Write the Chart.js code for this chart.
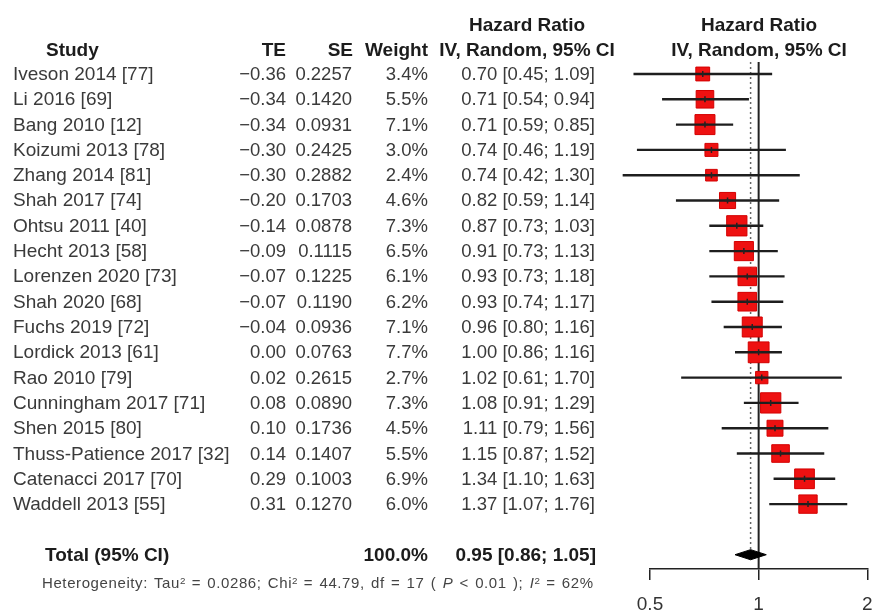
<!DOCTYPE html>
<html><head><meta charset="utf-8">
<script src="https://cdn.jsdelivr.net/npm/chart.js@4.4.0/dist/chart.umd.min.js"></script>
<style>
html,body{margin:0;padding:0;background:#fff;}
#wrap{position:relative;width:873px;height:613px;overflow:hidden;background:#fff;}
#c{position:absolute;left:0;top:0;}
.t{position:absolute;white-space:nowrap;font-family:"Liberation Sans",Arial,Helvetica,sans-serif;font-size:18.5px;color:#3a3a3a;line-height:20px;height:20px;}
.n{font-size:19px;}
.b{font-weight:bold;color:#1c1c1c;font-size:19px;}
.h{font-size:15px;color:#444;letter-spacing:0.6px;word-spacing:1.5px;}
.h sup{font-size:0.65em;vertical-align:0.45em;letter-spacing:0;}
</style></head><body>
<div id="wrap"><canvas id="c" width="883" height="613"></canvas><div id="txt"></div></div>
<script>
// ---- data ----
const STUDIES = ["Iveson 2014 [77]","Li 2016 [69]","Bang 2010 [12]","Koizumi 2013 [78]","Zhang 2014 [81]","Shah 2017 [74]","Ohtsu 2011 [40]","Hecht 2013 [58]","Lorenzen 2020 [73]","Shah 2020 [68]","Fuchs 2019 [72]","Lordick 2013 [61]","Rao 2010 [79]","Cunningham 2017 [71]","Shen 2015 [80]","Thuss-Patience 2017 [32]","Catenacci 2017 [70]","Waddell 2013 [55]"];
const TE = [-0.36,-0.34,-0.34,-0.30,-0.30,-0.20,-0.14,-0.09,-0.07,-0.07,-0.04,0.00,0.02,0.08,0.10,0.14,0.29,0.31];
const SE = [0.2257,0.1420,0.0931,0.2425,0.2882,0.1703,0.0878,0.1115,0.1225,0.1190,0.0936,0.0763,0.2615,0.0890,0.1736,0.1407,0.1003,0.1270];
const WEIGHT = [3.4,5.5,7.1,3.0,2.4,4.6,7.3,6.5,6.1,6.2,7.1,7.7,2.7,7.3,4.5,5.5,6.9,6.0];
const HR = [0.70,0.71,0.71,0.74,0.74,0.82,0.87,0.91,0.93,0.93,0.96,1.00,1.02,1.08,1.11,1.15,1.34,1.37];
const LOWER = [0.45,0.54,0.59,0.46,0.42,0.59,0.73,0.73,0.73,0.74,0.80,0.86,0.61,0.91,0.79,0.87,1.10,1.07];
const UPPER = [1.09,0.94,0.85,1.19,1.30,1.14,1.03,1.13,1.18,1.17,1.16,1.16,1.70,1.29,1.56,1.52,1.63,1.76];
const POOLED = [0.95, 0.86, 1.05];      // estimate, lower, upper
const POOLED_WEIGHT = 100.0;
const X_TICKS = [0.5, 1, 2];
const NULL_VALUE = 1;
const HETEROGENEITY = {tau2:"0.0286", chi2:"44.79", df:"17", p:"0.01", i2:"62%"};

// ---- layout / style ----
const TOTAL_ROW = STUDIES.length + 1;
const Y_MIN = -0.474, Y_MAX = 19.565;
const DIAMOND_HALF = 0.2;
const SQUARE_K = 7.5;   // square side in px = K * sqrt(weight)
const X_AXIS_HEIGHT = 44;

const fmtMinus = s => s.replace('-', '\u2212');
const ciText = (e,l,u) => `${e.toFixed(2)} [${l.toFixed(2)}; ${u.toFixed(2)}]`;

const datasets = [];
// CI lines (on top)
STUDIES.forEach((s,i) => {
  datasets.push({type:'line', data:[{x:LOWER[i],y:i},{x:UPPER[i],y:i}], borderColor:'#1e1e1e', borderWidth:2.4, pointRadius:0, clip:false, order:1});
});
// centre markers
datasets.push({type:'scatter', data:HR.map((v,i)=>({x:v,y:i})), pointStyle:'cross', pointRadius:3, borderColor:'#222', borderWidth:1.5, backgroundColor:'#222', order:0});
// squares
datasets.push({type:'scatter', data:HR.map((v,i)=>({x:v,y:i})), pointStyle:'rect',
  pointRadius:WEIGHT.map(w=>SQUARE_K*Math.sqrt(w)/Math.SQRT2), backgroundColor:'#ee1111', borderColor:'#d40000', borderWidth:1, order:2});
// pooled diamond
datasets.push({type:'line', data:[
  {x:POOLED[1],y:TOTAL_ROW},{x:POOLED[0],y:TOTAL_ROW-DIAMOND_HALF},{x:POOLED[2],y:TOTAL_ROW},{x:POOLED[0],y:TOTAL_ROW+DIAMOND_HALF},{x:POOLED[1],y:TOTAL_ROW}],
  borderColor:'#000', borderWidth:1, backgroundColor:'#000', fill:'shape', pointRadius:0, tension:0, clip:false, order:1});
// reference line at null value
datasets.push({type:'line', data:[{x:NULL_VALUE,y:Y_MIN},{x:NULL_VALUE,y:Y_MAX}], borderColor:'#222', borderWidth:2, pointRadius:0, order:3});
// dotted line at pooled estimate
datasets.push({type:'line', data:[{x:POOLED[0],y:Y_MIN},{x:POOLED[0],y:TOTAL_ROW}], borderColor:'#666', borderWidth:1.5, borderDash:[2,3], pointRadius:0, order:3});

const chart = new Chart(document.getElementById('c'), {
  type:'scatter',
  data:{datasets},
  options:{
    responsive:false, animation:false, devicePixelRatio:1,
    layout:{padding:{left:650, right:6, top:62, bottom:0}},
    plugins:{legend:{display:false}, tooltip:{enabled:false}},
    scales:{
      x:{type:'logarithmic', min:0.5, max:2,
        afterBuildTicks:(sc)=>{ sc.ticks = X_TICKS.map(v=>({value:v})); },
        afterFit:(sc)=>{ sc.height = X_AXIS_HEIGHT; sc.paddingLeft = 0; sc.paddingRight = 0; },
        ticks:{callback:(v)=>String(v), autoSkip:false, maxRotation:0, padding:15,
          color:'#333', font:{family:'"Liberation Sans", Arial, sans-serif', size:19, lineHeight:1}},
        grid:{display:true, drawOnChartArea:false, drawTicks:true, tickLength:11, color:'#222', lineWidth:1.5, tickColor:'#222', tickWidth:1.5},
        border:{display:true, color:'#222', width:1.5}
      },
      y:{type:'linear', reverse:true, min:Y_MIN, max:Y_MAX, display:false}
    }
  }
});

// ---- text table ----
const txt = document.getElementById('txt');
function put(str, x, y, align, cls, html){
  const d = document.createElement('div');
  d.className = 't' + (cls ? ' ' + cls : '');
  if (html) d.innerHTML = str; else d.textContent = str;
  d.style.top = (y - 10) + 'px';
  if (align === 'right') d.style.right = (873 - x) + 'px';
  else if (align === 'center') { d.style.left = x + 'px'; d.style.transform = 'translateX(-50%)'; }
  else d.style.left = x + 'px';
  txt.appendChild(d);
}
const ys = chart.scales.y;
put('Hazard Ratio', 527, 25, 'center', 'b');
put('IV, Random, 95% CI', 527, 50, 'center', 'b');
put('Hazard Ratio', 759, 25, 'center', 'b');
put('IV, Random, 95% CI', 759, 50, 'center', 'b');
put('Study', 46, 50, 'left', 'b');
put('TE', 286, 50, 'right', 'b');
put('SE', 353, 50, 'right', 'b');
put('Weight', 428, 50, 'right', 'b');
STUDIES.forEach((s,i)=>{
  const y = ys.getPixelForValue(i);
  put(s, 13, y, 'left', 'n');
  put(fmtMinus(TE[i].toFixed(2)), 286, y, 'right');
  put(SE[i].toFixed(4), 352, y, 'right');
  put(WEIGHT[i].toFixed(1) + '%', 428, y, 'right');
  put(ciText(HR[i], LOWER[i], UPPER[i]), 595, y, 'right');
});
const yt = ys.getPixelForValue(TOTAL_ROW);
put('Total (95% CI)', 45, yt, 'left', 'b');
put(POOLED_WEIGHT.toFixed(1) + '%', 428, yt, 'right', 'b');
put(ciText(POOLED[0], POOLED[1], POOLED[2]), 596, yt, 'right', 'b');
const H = HETEROGENEITY;
put(`Heterogeneity: Tau<sup>2</sup> = ${H.tau2}; Chi<sup>2</sup> = ${H.chi2}, df = ${H.df} ( <i>P</i> &lt; ${H.p} ); <i>I</i><sup>2</sup> = ${H.i2}`, 42, 581, 'left', 'h', true);
</script>
</body></html>
